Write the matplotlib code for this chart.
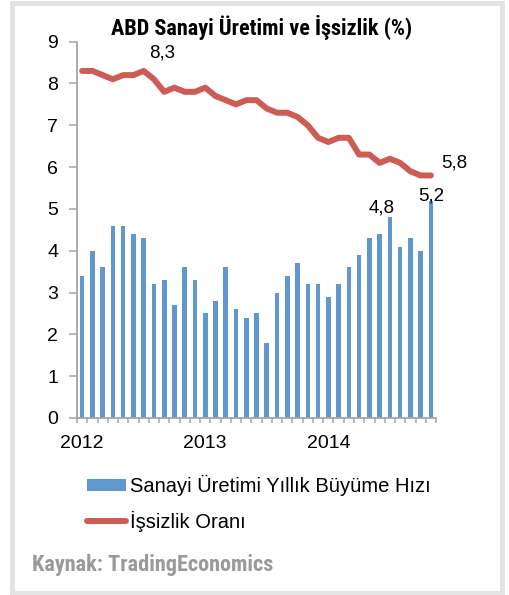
import matplotlib

matplotlib.use("Agg")
import matplotlib.pyplot as plt
from matplotlib import font_manager
from matplotlib.lines import Line2D
from matplotlib.patches import Patch, Rectangle
import numpy as np

# Aylık veriler: Ocak 2012 - Kasım 2014
sanayi = [3.4, 4.0, 3.6, 4.6, 4.6, 4.4, 4.3, 3.2, 3.3, 2.7, 3.6, 3.3,
          2.5, 2.8, 3.6, 2.6, 2.4, 2.5, 1.8, 3.0, 3.4, 3.7, 3.2, 3.2,
          2.9, 3.2, 3.6, 3.9, 4.3, 4.4, 4.8, 4.1, 4.3, 4.0, 5.2]
issizlik = [8.3, 8.3, 8.2, 8.1, 8.2, 8.2, 8.3, 8.1, 7.8, 7.9, 7.8, 7.8,
            7.9, 7.7, 7.6, 7.5, 7.6, 7.6, 7.4, 7.3, 7.3, 7.2, 7.0, 6.7,
            6.6, 6.7, 6.7, 6.3, 6.3, 6.1, 6.2, 6.1, 5.9, 5.8, 5.8]
yil_etiketleri = ["2012", "2013", "2014"]
yil_konumlari = [0, 12, 24]

BAR_COLOR = "#6098CE"
LINE_COLOR = "#CD5C55"
AXIS_GRAY = "#A6A6A6"

available = {f.name for f in font_manager.fontManager.ttflist}
narrow = "DejaVu Sans"
for cand in ["Roboto Condensed", "Archivo Narrow", "PT Sans Narrow", "Fira Sans Condensed",
             "Liberation Sans Narrow", "Barlow Condensed", "Open Sans Condensed"]:
    if cand in available:
        narrow = cand
        break
plt.rcParams["font.family"] = ["Liberation Sans", "DejaVu Sans"]

fig = plt.figure(figsize=(5.1, 5.95), dpi=100)
ax = fig.add_axes([0.151, 0.2975, 0.704, 0.6325])

x = np.arange(len(sanayi))
ax.bar(x, sanayi, width=0.45, color=BAR_COLOR, zorder=2)
ax.plot(x, issizlik, color=LINE_COLOR, linewidth=4.3, solid_capstyle="round",
        solid_joinstyle="round", zorder=3)

ax.set_xlim(-0.5, len(sanayi) - 0.5)
ax.set_ylim(0, 9)
ax.set_yticks(range(0, 10))
ax.set_xticks(yil_konumlari)
ax.set_xticklabels(yil_etiketleri)
ax.set_xticks(np.arange(-0.5, len(sanayi)), minor=True)

for side in ("top", "right"):
    ax.spines[side].set_visible(False)
for side in ("left", "bottom"):
    ax.spines[side].set_color(AXIS_GRAY)
    ax.spines[side].set_linewidth(1.3)

ax.tick_params(axis="y", direction="out", length=5.5, width=1.1, color=AXIS_GRAY,
               labelsize=14, pad=8)
ax.tick_params(axis="x", which="major", length=0, labelsize=14, pad=12)
ax.tick_params(axis="x", which="minor", direction="out", length=3.6, width=1.1,
               color=AXIS_GRAY)

# veri etiketleri
ax.annotate("8,3", (6, issizlik[6]), xytext=(13, 13), textcoords="offset points",
            ha="center", va="center", fontsize=13.5)
ax.annotate("5,8", (34, issizlik[34]), xytext=(17, 9), textcoords="offset points",
            ha="center", va="center", fontsize=13.5)
ax.annotate("4,8", (30, sanayi[30]), xytext=(-6, 7), textcoords="offset points",
            ha="center", va="center", fontsize=13.5)
ax.annotate("5,2", (34, sanayi[34]), xytext=(0, 3), textcoords="offset points",
            ha="center", va="center", fontsize=13.5)

fig.text(0.513, 0.953, "ABD Sanayi Üretimi ve İşsizlik (%)", ha="center", va="center",
         fontsize=16, fontweight="bold", family=[narrow, "DejaVu Sans"])
fig.text(0.063, 0.050, "Kaynak: TradingEconomics", ha="left", va="center",
         fontsize=16, fontweight="bold", color="#9A9A9A", family=[narrow, "DejaVu Sans"])

handles = [Patch(facecolor=BAR_COLOR, edgecolor="none"),
           Line2D([], [], color=LINE_COLOR, linewidth=4.3, solid_capstyle="round")]
labels = ["Sanayi Üretimi Yıllık Büyüme Hızı", "İşsizlik Oranı"]
fig.legend(handles, labels, loc="upper left", bbox_to_anchor=(0.170, 0.201),
           frameon=False, fontsize=14.5, handlelength=1.95, handleheight=0.55,
           handletextpad=0.2, labelspacing=0.7, borderpad=0, borderaxespad=0)

# dış çerçeve
fig.patches.append(Rectangle((12.5 / 510, 2.5 / 595), 490 / 510, 590 / 595,
                             transform=fig.transFigure, fill=False,
                             edgecolor="#E4E4E4", linewidth=3.6, zorder=0))

fig.savefig("out.png", dpi=100)
